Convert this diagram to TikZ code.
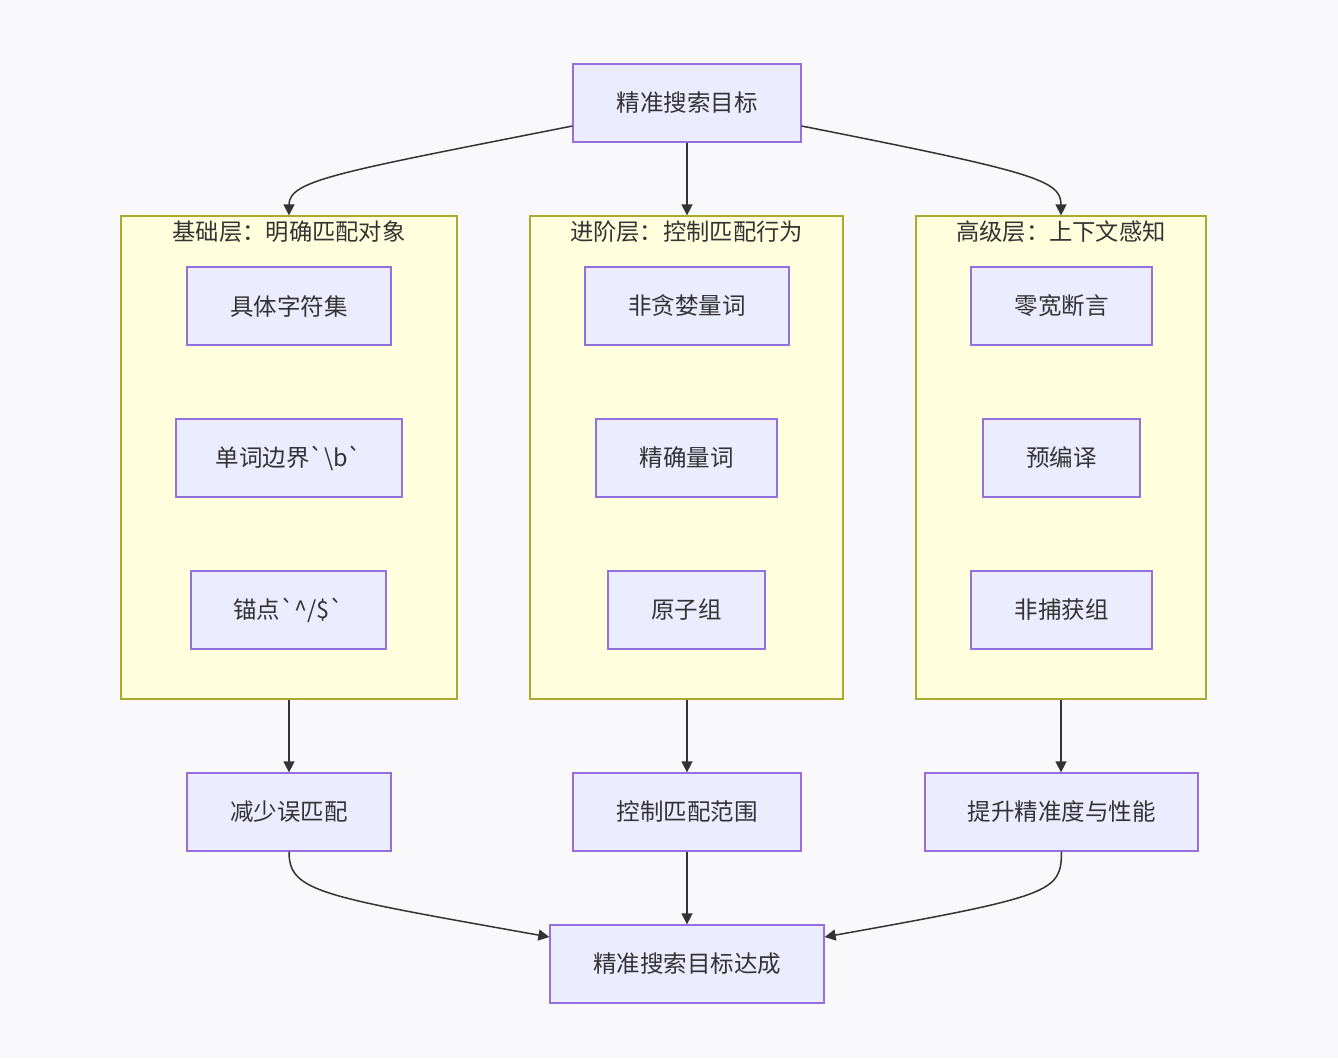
\documentclass[tikz,border=0pt]{standalone}
\usepackage{fontspec}
\setmainfont{Noto Sans CJK SC}
\usetikzlibrary{arrows.meta,positioning}
\definecolor{bgc}{HTML}{F9F9FB}
\definecolor{nodefill}{HTML}{ECECFF}
\definecolor{nodeline}{HTML}{9370DB}
\definecolor{clusfill}{HTML}{FFFFDE}
\definecolor{clusline}{HTML}{AAAA33}
\definecolor{txt}{HTML}{333333}
\tikzset{
  box/.style={draw=nodeline, fill=nodefill, line width=1.3pt, text=txt,
    font=\fontsize{23.5}{28}\selectfont, inner sep=0pt, minimum height=78pt},
  clus/.style={draw=clusline, fill=clusfill, line width=1.3pt, inner sep=0pt},
  ctitle/.style={text=txt, font=\fontsize{23.3}{28}\selectfont, inner sep=0pt},
  edge/.style={draw=txt, line width=1.5pt, -{Triangle[length=11pt,width=11pt]}}
}
\begin{document}
\begin{tikzpicture}[x=1pt,y=-1pt]
\fill[bgc] (0,0) rectangle (1338,1058);
\useasboundingbox (0,0) rectangle (1338,1058);
% clusters
\node[clus, minimum width=336pt, minimum height=483pt] (c1) at (289,457.5) {};
\node[clus, minimum width=313pt, minimum height=483pt] (c2) at (686.5,457.5) {};
\node[clus, minimum width=290pt, minimum height=483pt] (c3) at (1061,457.5) {};
\node[ctitle] (t1) at (289,232) {基础层：明确匹配对象};
\node[ctitle] (t2) at (686.5,232) {进阶层：控制匹配行为};
\node[ctitle] (t3) at (1061,232) {高级层：上下文感知};
% nodes
\node[box, minimum width=228pt] (top) at (687,103) {精准搜索目标};
\node[box, minimum width=204pt] (a1) at (289,306) {具体字符集};
\node[box, minimum width=226pt] (a2) at (289,458) {单词边界\textasciigrave\textbackslash b\textasciigrave};
\node[box, minimum width=195pt] (a3) at (288.5,610) {锚点\textasciigrave\textasciicircum/\$\textasciigrave};
\node[box, minimum width=204pt] (b1) at (687,306) {非贪婪量词};
\node[box, minimum width=181pt] (b2) at (686.5,458) {精确量词};
\node[box, minimum width=157pt] (b3) at (686.5,610) {原子组};
\node[box, minimum width=181pt] (d1) at (1061.5,306) {零宽断言};
\node[box, minimum width=157pt] (d2) at (1061.5,458) {预编译};
\node[box, minimum width=181pt] (d3) at (1061.5,610) {非捕获组};
\node[box, minimum width=204pt] (r1) at (289,812) {减少误匹配};
\node[box, minimum width=228pt] (r2) at (687,812) {控制匹配范围};
\node[box, minimum width=273pt] (r3) at (1061.5,812) {提升精准度与性能};
\node[box, minimum width=274pt] (fin) at (687,964) {精准搜索目标达成};
% edges
\draw[edge] (top.west |- 0,126) .. controls (340,172) and (289,180) .. (c1.north);
\draw[edge] (top.south) -- (top.south |- c2.north);
\draw[edge] (top.east |- 0,126) .. controls (1034,172) and (1061,180) .. (c3.north);
\draw[edge] (c1.south) -- (r1.north);
\draw[edge] (r2.north |- c2.south) -- (r2.north);
\draw[edge] (c3.south) -- (c3.south |- r3.north);
\draw[edge] (r1.south) .. controls (289,892) and (320,896) .. (fin.west |- 0,937);
\draw[edge] (r2.south) -- (fin.north);
\draw[edge] (r3.south) .. controls (1061,892) and (1054,896) .. (fin.east |- 0,937);
\end{tikzpicture}
\end{document}
